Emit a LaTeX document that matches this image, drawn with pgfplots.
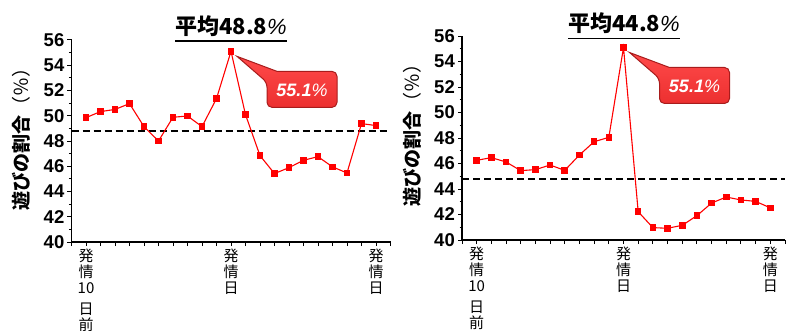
\documentclass[border=0pt]{standalone}
\usepackage{pgfplots}
\pgfplotsset{compat=1.18}
\usepackage{pgfplotstable}
\usepackage{fontspec}
\setmainfont{Liberation Sans}
\newfontfamily\cjk{Noto Sans CJK JP}

\definecolor{linered}{HTML}{FF0000}
\definecolor{calltop}{HTML}{FF4A4A}
\definecolor{callbot}{HTML}{EC3030}
\definecolor{calledge}{HTML}{A81C1C}

% play share per day, 10 days before oestrus to 10 days after
\pgfplotstableread{
x y
0 49.85
1 50.33
2 50.50
3 50.96
4 49.14
5 48.00
6 49.88
7 49.98
8 49.14
9 51.36
10 55.10
11 50.09
12 46.84
13 45.42
14 45.89
15 46.47
16 46.76
17 45.95
18 45.47
19 49.38
20 49.22
}\playA

\pgfplotstableread{
x y
0 46.25
1 46.46
2 46.12
3 45.44
4 45.52
5 45.88
6 45.46
7 46.67
8 47.71
9 48.05
10 55.10
11 42.22
12 40.97
13 40.92
14 41.15
15 41.91
16 42.90
17 43.37
18 43.14
19 43.03
20 42.52
}\playB

\pgfplotsset{
  panel/.style={
    scale only axis,
    anchor=south west,
    xmin=-1, xmax=21,
    ymin=40, ymax=56,
    axis lines=left,
    axis line style={-, line width=1.1pt},
    tick align=outside,
    major tick length=4pt,
    minor tick length=2.5pt,
    tick style={black, line width=1pt},
    xtick={-1,...,21},
    xticklabels={{},{発\\情\\10\\[5pt]日\\前},{},{},{},{},{},{},{},{},{},{発\\情\\日},{},{},{},{},{},{},{},{},{},{発\\情\\日},{}},
    xticklabel style={align=center, anchor=north, inner sep=0pt, yshift=-3pt,
      font={\cjk\fontsize{15}{16}\selectfont}},
    ytick={40,42,...,56},
    minor y tick num=1,
    yticklabel style={anchor=east, inner sep=0pt, xshift=-3pt,
      font={\bfseries\fontsize{18.5}{18.5}\selectfont}},
    /pgf/number format/assume math mode=true,
    clip=false,
  },
  series/.style={linered, line width=1.1pt, mark=square*, mark size=2.8pt,
    mark options={fill=linered, draw=linered, line width=0pt}},
  meanline/.style={black, line width=1.4pt, dash pattern=on 7pt off 4pt},
}

\newcommand\thinpct{{\rmfamily\mdseries\itshape\%}}

% red speech-bubble label hanging off a peak point
\newcommand\callout[1]{%
  \begin{scope}[shift={(#1)}]
    \draw[calledge, line width=1pt, top color=calltop, bottom color=callbot]
      (6pt,-5pt) -- (46pt,-20pt) [rounded corners=5pt] -- (106pt,-20pt) -- (106pt,-56pt)
      -- (36pt,-56pt) -- (36pt,-31pt) [sharp corners] -- cycle;
    \node[text=white, inner sep=0pt, font={\bfseries\itshape\fontsize{18}{18}\selectfont}]
      at (71pt,-39pt) {55.1\thinpct};
  \end{scope}}

\begin{document}
\begin{tikzpicture}[x=1pt, y=1pt]
\useasboundingbox (0pt,0pt) rectangle (787pt,330pt);

% left panel
\begin{axis}[panel, at={(71.5pt,88pt)}, width=319pt, height=202pt]
  \addplot[meanline] coordinates {(-1,48.8) (21,48.8)};
  \addplot[series] table[x=x, y=y] {\playA};
  \coordinate (peakA) at (axis cs:10,55.1);
\end{axis}
\callout{peakA}
\node[anchor=base, inner sep=0pt, font={\cjk\bfseries\fontsize{22}{22}\selectfont}]
  (TA) at (231pt,295pt) {平均48.8\thinpct};
\draw[line width=1.3pt] (TA.west |- 0pt,289pt) -- (TA.east |- 0pt,289pt);
\node[rotate=90, inner sep=0pt, font={\cjk\bfseries\fontsize{19}{19}\selectfont}]
  at (21.7pt,196pt) {遊びの割合{\mdseries （％）}};

% right panel
\begin{axis}[panel, at={(462pt,90pt)}, width=323pt, height=204pt]
  \addplot[meanline] coordinates {(-1,44.8) (21,44.8)};
  \addplot[series] table[x=x, y=y] {\playB};
  \coordinate (peakB) at (axis cs:10,55.1);
\end{axis}
\callout{peakB}
\node[anchor=base, inner sep=0pt, font={\cjk\bfseries\fontsize{22}{22}\selectfont}]
  (TB) at (624pt,298pt) {平均44.8\thinpct};
\draw[line width=1.3pt] (TB.west |- 0pt,291.5pt) -- (TB.east |- 0pt,291.5pt);
\node[rotate=90, inner sep=0pt, font={\cjk\bfseries\fontsize{19}{19}\selectfont}]
  at (412pt,200pt) {遊びの割合{\mdseries （％）}};
\end{tikzpicture}
\end{document}
